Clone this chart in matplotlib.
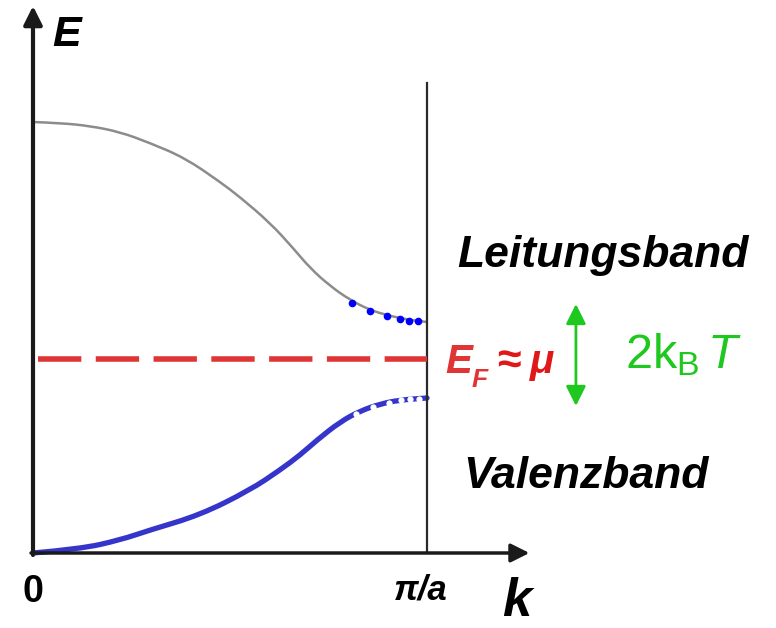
import numpy as np
import matplotlib.pyplot as plt
from matplotlib.path import Path
from matplotlib.patches import PathPatch

plt.rcParams['font.family'] = ['Liberation Sans', 'DejaVu Sans']
plt.rcParams['mathtext.fontset'] = 'custom'
plt.rcParams['mathtext.rm'] = 'Liberation Sans'
plt.rcParams['mathtext.it'] = 'Liberation Sans:italic'

# k in Einheiten von pi/a, E in willkuerlichen Einheiten
k_lb = [0, .069, .145, .221, .297, .386, .475, .525, .602, .660, .703, .754, .805, .855, .906, .957, 1.0]
E_lb = [4.31, 4.30, 4.27, 4.21, 4.10, 3.95, 3.71, 3.56, 3.30, 3.05, 2.85, 2.67, 2.53, 2.43, 2.37, 2.33, 2.31]

# Elektronen im Leitungsband
k_el = [.810, .855, .898, .931, .954, .977]
E_el = [2.50, 2.42, 2.37, 2.34, 2.32, 2.32]

k_vb = [0, .119, .221, .297, .424, .551, .627, .678, .721, .779, .830, .881, .931, 1.0]
E_vb = [0, .04, .13, .23, .38, .63, .83, .98, 1.13, 1.31, 1.42, 1.49, 1.53, 1.55]

# Loecher im Valenzband
k_h = [.820, .863, .904, .934, .957, .980]
E_h = [1.39, 1.46, 1.50, 1.53, 1.54, 1.54]

E_F = 1.94
E_top = 4.70  # Ende der Linie bei pi/a


def smooth_path(x, y):
    # quadratische Bezier-Kurve durch die Mittelpunkte, nur zum Zeichnen
    pts = list(zip(x, y))
    verts = [pts[0]]
    codes = [Path.MOVETO]
    for i in range(1, len(pts) - 1):
        mid = ((pts[i][0] + pts[i + 1][0]) / 2, (pts[i][1] + pts[i + 1][1]) / 2)
        verts += [pts[i], mid]
        codes += [Path.CURVE3, Path.CURVE3]
    verts.append(pts[-1])
    codes.append(Path.LINETO)
    return Path(verts, codes)


fig = plt.figure(figsize=(7.76, 6.28), dpi=100)
ax = fig.add_axes([0, 0, 1, 1])
ax.set_xlim(-33 / 394, (776 - 33) / 394)
ax.set_ylim(-0.75, 5.53)
ax.axis('off')

# Achsen
ax.annotate('', xy=(0, 5.47), xytext=(0, -0.02),
            arrowprops=dict(arrowstyle='-|>', lw=3, color='#1a1a1a', mutation_scale=28, shrinkA=0, shrinkB=0))
ax.annotate('', xy=(1.26, 0), xytext=(-0.005, 0),
            arrowprops=dict(arrowstyle='-|>', lw=2.5, color='#1a1a1a', mutation_scale=28, shrinkA=0, shrinkB=0))
ax.plot([1, 1], [0, E_top], color='#2a2a2a', lw=1.6)

# Baender
ax.add_patch(PathPatch(smooth_path(k_lb, E_lb), fill=False, edgecolor='#8c8c8c', lw=1.8))
ax.add_patch(PathPatch(smooth_path(k_vb, E_vb), fill=False, edgecolor='#3535cc', lw=3.8, capstyle='round'))
ax.plot(k_el, E_el, 'o', color='#0000ff', ms=5.5, mec='none')
ax.plot(k_h, E_h, 'o', color='white', ms=4.5, mec='none')

# Fermi-Niveau
ax.plot([0.013, 1], [E_F, E_F], color='#e03535', lw=4, dashes=(7.8, 2.6))

# Beschriftung
ax.text(0.048, 5.18, 'E', fontsize=31, fontweight='bold', fontstyle='italic', va='center')
ax.text(0.0, -0.39, '0', fontsize=27, fontweight='bold', ha='center', va='center')
ax.text(0.985, -0.37, 'π/a', fontsize=25, fontweight='bold', fontstyle='italic', ha='center', va='center')
ax.text(1.19, -0.735, 'k', fontsize=38, fontweight='bold', fontstyle='italic', va='bottom')

ax.text(1.076, 2.86, 'Leitungsband', fontsize=32, fontweight='bold', fontstyle='italic',
        va='baseline')
ax.text(1.093, 0.65, 'Valenzband', fontsize=32, fontweight='bold', fontstyle='italic',
        va='baseline')

red = '#e01818'
ax.text(1.046, 1.80, 'E', fontsize=29, fontweight='bold', fontstyle='italic', color='#e03535',
        va='baseline')
ax.text(1.114, 1.66, 'F', fontsize=19, fontweight='bold', fontstyle='italic', color='#e03535',
        va='baseline')
ax.text(1.178, 1.80, '≈', fontsize=31, fontweight='bold', color=red, va='baseline')
ax.text(1.262, 1.80, 'μ', fontsize=29, fontweight='bold', fontstyle='italic', color=red,
        va='baseline')

green = '#1ec81e'
ax.annotate('', xy=(1.378, 2.49), xytext=(1.378, 1.47),
            arrowprops=dict(arrowstyle='<|-|>', lw=2, color=green, mutation_scale=30, shrinkA=0, shrinkB=0))
ax.text(1.503, 1.85, r'2k$_\mathrm{B}$$\,T$', fontsize=35, color=green, va='baseline')

fig.savefig('out.png', dpi=100)
